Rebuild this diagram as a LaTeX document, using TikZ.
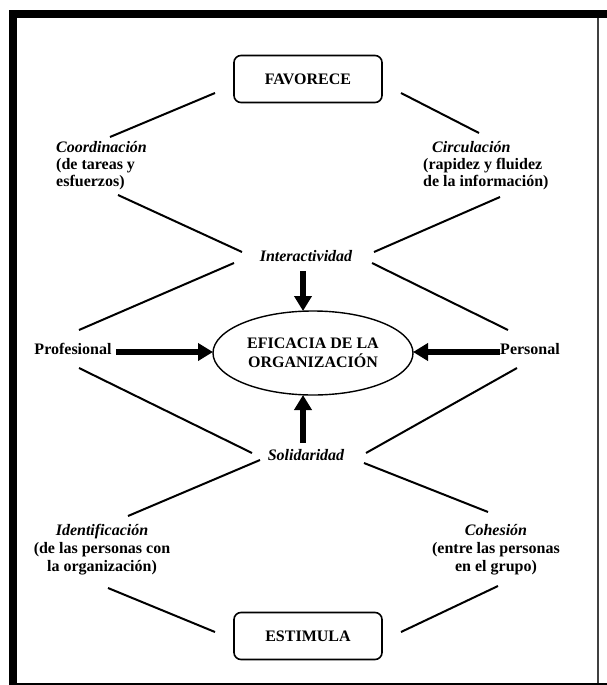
\documentclass[tikz,border=0pt]{standalone}
\usepackage{fontspec}
\setmainfont{Liberation Serif}
\usetikzlibrary{arrows.meta,shapes.geometric}
\begin{document}
\begin{tikzpicture}[x=1pt,y=-1pt,
  lbl/.style={font=\fontsize{16}{17}\selectfont\bfseries, inner sep=0pt},
  ilbl/.style={font=\fontsize{16}{17}\selectfont\bfseries\itshape, inner sep=0pt},
  box/.style={draw, line width=1.6pt, rounded corners=7pt, minimum width=148pt, minimum height=47pt, font=\fontsize{16}{17}\selectfont\bfseries},
  conn/.style={line width=2pt},
  bigarrow/.style={line width=6pt, -{Triangle[width=17pt,length=15pt]}},
]
\useasboundingbox (0,0) rectangle (607,685);
% frame
\fill (9,10) rectangle (17,685);
\fill (9,10) rectangle (607,18);
\draw[line width=2pt, black!75] (598,18) -- (598,685);
\draw[line width=2pt] (17,683.5) -- (607,683.5);

% main nodes
\node[box] (fav) at (308,79) {FAVORECE};
\node[box] (est) at (308,636) {ESTIMULA};
\node[draw, ellipse, line width=1.4pt, minimum width=200pt, minimum height=84pt, inner sep=0pt, align=center,
      font=\fontsize{16}{19}\selectfont\bfseries] (ef) at (313,353) {EFICACIA DE LA\\ORGANIZACIÓN};

\node[ilbl] (inter) at (306,256) {Interactividad};
\node[ilbl] (soli) at (306,455) {Solidaridad};
\node[lbl] (prof) at (73,349) {Profesional};
\node[lbl] (pers) at (530,349) {Personal};

\node[lbl, align=left, anchor=west] (coord) at (56,166) {\textit{Coordinación}\\(de tareas y\\esfuerzos)};
\node[lbl, align=left, anchor=west] (circ) at (423,166) {\hspace*{9pt}\textit{Circulación}\\(rapidez y fluidez\\de la información)};
\node[lbl, align=center, font=\fontsize{16}{18}\selectfont\bfseries] (ident) at (102,550) {\textit{Identificación}\\(de las personas con\\la organización)};
\node[lbl, align=center, font=\fontsize{16}{18}\selectfont\bfseries] (cohes) at (496,550) {\textit{Cohesión}\\(entre las personas\\en el grupo)};

% connector end points
\coordinate (favL) at (215,93);   \coordinate (coordT) at (110,137);
\coordinate (favR) at (401,93);   \coordinate (circT) at (479,133);
\coordinate (coordB) at (118,195); \coordinate (interUL) at (242,252);
\coordinate (circB) at (500,197); \coordinate (interUR) at (374,252);
\coordinate (interLL) at (234,263); \coordinate (profT) at (79,330);
\coordinate (interLR) at (372,263); \coordinate (persT) at (508,330);
\coordinate (profB) at (79,368); \coordinate (soliUL) at (252,453);
\coordinate (persB) at (517,368); \coordinate (soliUR) at (366,453);
\coordinate (soliLL) at (260,460); \coordinate (identT) at (128,516);
\coordinate (soliLR) at (364,463); \coordinate (cohesT) at (488,512);
\coordinate (identB) at (108,588); \coordinate (estL) at (215,632);
\coordinate (cohesB) at (498,586); \coordinate (estR) at (401,632);

\draw[conn] (favL) -- (coordT);
\draw[conn] (favR) -- (circT);
\draw[conn] (coordB) -- (interUL);
\draw[conn] (circB) -- (interUR);
\draw[conn] (interLL) -- (profT);
\draw[conn] (interLR) -- (persT);
\draw[conn] (profB) -- (soliUL);
\draw[conn] (persB) -- (soliUR);
\draw[conn] (soliLL) -- (identT);
\draw[conn] (soliLR) -- (cohesT);
\draw[conn] (identB) -- (estL);
\draw[conn] (cohesB) -- (estR);

% thick arrows
\coordinate (interA) at (303,271); \coordinate (efN) at (303,311);
\coordinate (soliA) at (303,443);  \coordinate (efS) at (303,395);
\coordinate (profA) at (116,352);  \coordinate (efW) at (213,352);
\coordinate (persA) at (500,352);  \coordinate (efE) at (413,352);
\draw[bigarrow] (interA) -- (efN);
\draw[bigarrow] (soliA) -- (efS);
\draw[bigarrow] (profA) -- (efW);
\draw[bigarrow] (persA) -- (efE);
\end{tikzpicture}
\end{document}
